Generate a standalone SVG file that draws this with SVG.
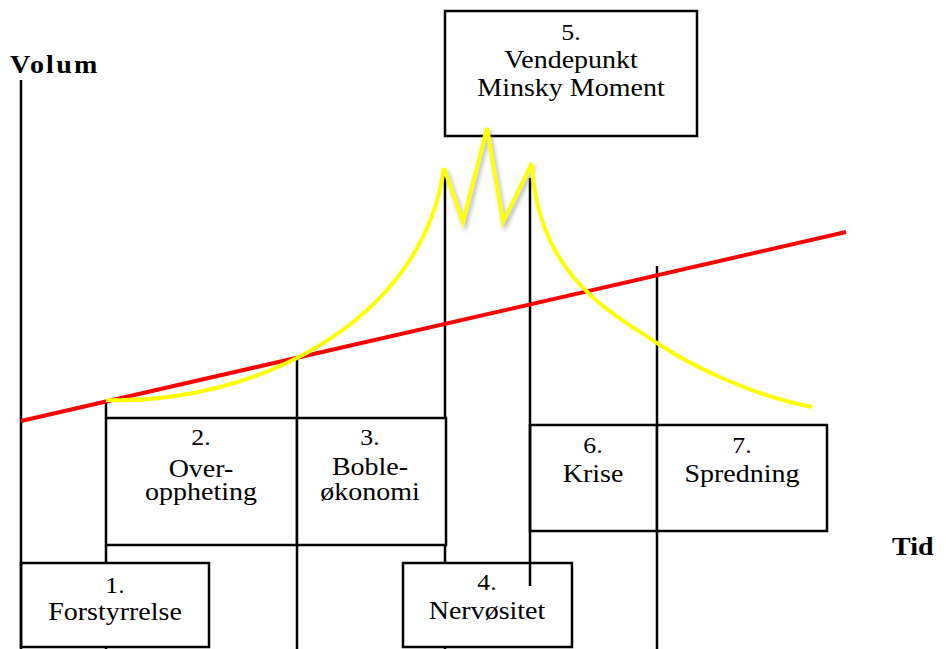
<svg xmlns="http://www.w3.org/2000/svg" width="946" height="649" viewBox="0 0 946 649">
<style>
.box{fill:#fff;stroke:#000;stroke-width:2.5}
.ln{stroke:#000;stroke-width:2.5;fill:none}
.t{font-family:"Liberation Serif","Times New Roman",serif;font-size:25px;fill:#000;text-anchor:middle}
.n{font-family:"Liberation Serif","Times New Roman",serif;font-size:23px;fill:#000;text-anchor:middle}
.ax{font-family:"Liberation Serif","Times New Roman",serif;font-size:25px;font-weight:bold;fill:#000}
.red{stroke:#ff0000;stroke-width:4;fill:none}
.yel{stroke:#ffff00;stroke-width:4;fill:none}
</style>
<defs>
<filter id="sh" x="-20%" y="-20%" width="140%" height="140%">
<feDropShadow dx="2" dy="3" stdDeviation="2" flood-color="#777" flood-opacity="0.55"/>
</filter>
</defs>
<rect width="946" height="649" fill="#fff"/>
<text class="ax" transform="translate(10,73) scale(1.12,1)" letter-spacing="2">Volum</text>
<text class="ax" transform="translate(892,555) scale(1.12,1)">Tid</text>

<g id="node1"><rect class="box" x="21" y="563" width="188" height="84"/>
<text class="n" transform="translate(115,593) scale(1.12,1)">1.</text>
<text class="t" transform="translate(115,620) scale(1.12,1)">Forstyrrelse</text></g>

<g id="node2"><rect class="box" x="106" y="418" width="191" height="127"/>
<text class="n" transform="translate(201,445) scale(1.12,1)">2.</text>
<text class="t" transform="translate(201,477) scale(1.12,1)">Over-</text>
<text class="t" transform="translate(201,500) scale(1.12,1)">oppheting</text></g>

<g id="node3"><rect class="box" x="297" y="418" width="149" height="127"/>
<text class="n" transform="translate(370,445) scale(1.12,1)">3.</text>
<text class="t" transform="translate(370,475) scale(1.12,1)">Boble-</text>
<text class="t" transform="translate(370,500) scale(1.12,1)">økonomi</text></g>

<g id="node4"><rect class="box" x="403" y="563" width="169" height="84"/>
<text class="n" transform="translate(487,590) scale(1.12,1)">4.</text>
<text class="t" transform="translate(487,619) scale(1.12,1)">Nervøsitet</text></g>

<g id="node5"><rect class="box" x="445" y="11" width="252" height="125"/>
<text class="n" transform="translate(571,40) scale(1.12,1)">5.</text>
<text class="t" transform="translate(571,68) scale(1.12,1)">Vendepunkt</text>
<text class="t" transform="translate(571,96) scale(1.12,1)">Minsky Moment</text></g>

<g id="node6"><rect class="box" x="530" y="425" width="127" height="106"/>
<text class="n" transform="translate(593,453) scale(1.12,1)">6.</text>
<text class="t" transform="translate(593,482) scale(1.12,1)">Krise</text></g>

<g id="node7"><rect class="box" x="657" y="425" width="170" height="106"/>
<text class="n" transform="translate(742,453) scale(1.12,1)">7.</text>
<text class="t" transform="translate(742,482) scale(1.12,1)">Spredning</text></g>

<g id="connectors">
<line class="ln" x1="21" y1="80" x2="21" y2="649"/>
<line class="ln" x1="106" y1="400" x2="106" y2="418"/>
<line class="ln" x1="106" y1="545" x2="106" y2="563"/>
<line class="ln" x1="106" y1="647" x2="106" y2="649"/>
<line class="ln" x1="297" y1="358" x2="297" y2="418"/>
<line class="ln" x1="297" y1="545" x2="297" y2="649"/>
<line class="ln" x1="445" y1="176" x2="445" y2="418"/>
<line class="ln" x1="445" y1="545" x2="445" y2="563"/>
<line class="ln" x1="445" y1="647" x2="445" y2="649"/>
<line class="ln" x1="530" y1="178" x2="530" y2="586"/>
<line class="ln" x1="657" y1="266" x2="657" y2="425"/>
<line class="ln" x1="657" y1="531" x2="657" y2="649"/>
<line class="red" x1="21" y1="421" x2="846" y2="232"/>
<path class="yel" d="M106,400 C250,405 422,325 444,168"/>
<path class="yel" filter="url(#sh)" d="M444,168 L463,222 L487,128 L503,222 L532,163"/>
<path class="yel" d="M532,165 C538,275 610,312 657,343 C690,365 750,395 812,407"/>
</g>
</svg>
